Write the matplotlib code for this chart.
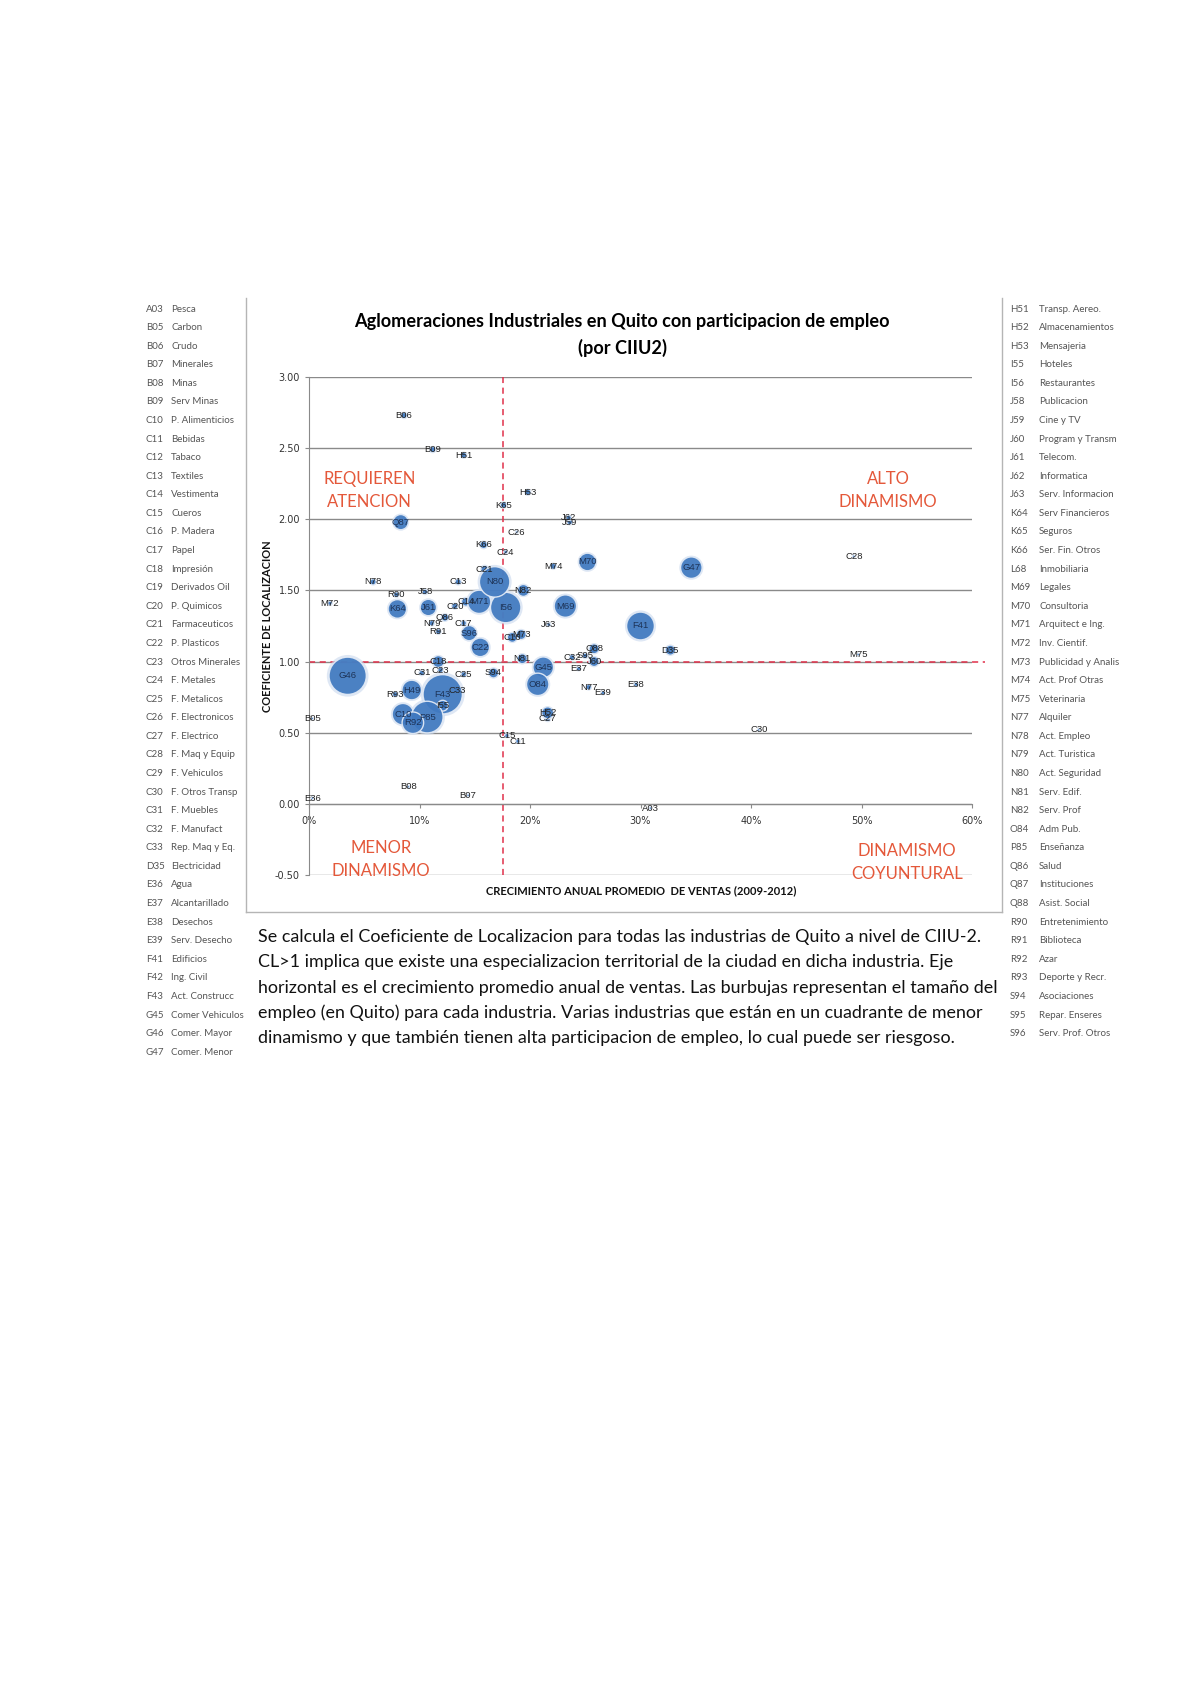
import matplotlib
matplotlib.use("Agg")
import matplotlib.pyplot as plt
from matplotlib.ticker import FuncFormatter, MultipleLocator
from matplotlib.lines import Line2D

W, H = 1195, 1691

# datos del grafico (crecimiento en %, coeficiente de localizacion, empleo relativo)
codigos = ["A03", "B05", "B06", "B07", "B08", "B09", "C10", "C11", "C13", "C14",
           "C15", "C16", "C17", "C18", "C20", "C21", "C22", "C23", "C24", "C25",
           "C26", "C27", "C28", "C30", "C31", "C32", "C33", "D35", "E36", "E37",
           "E38", "E39", "F41", "F43", "G45", "G46", "G47", "H49", "H51", "H52",
           "H53", "I55", "I56", "J58", "J59", "J60", "J61", "J62", "J63", "K64",
           "K65", "K66", "M69", "M70", "M71", "M72", "M73", "M74", "M75", "N77",
           "N78", "N79", "N80", "N81", "N82", "O84", "P85", "Q86", "Q87", "Q88",
           "R90", "R91", "R92", "R93", "S94", "S95", "S96"]
crecimiento = [30.9, 0.3, 8.6, 14.4, 9.0, 11.2, 8.5, 18.9, 13.5, 14.2,
               17.9, 18.4, 14.0, 11.7, 13.2, 15.9, 15.5, 11.9, 17.8, 14.0,
               18.8, 21.6, 49.3, 40.7, 10.2, 23.8, 13.4, 32.7, 0.3, 24.4,
               29.6, 26.6, 30.0, 12.1, 21.2, 3.5, 34.6, 9.3, 14.0, 21.6,
               19.8, 12.1, 17.8, 10.5, 23.6, 25.8, 10.8, 23.5, 21.7, 8.0,
               17.6, 15.8, 23.2, 25.2, 15.4, 1.9, 19.2, 22.1, 49.7, 25.3,
               5.8, 11.1, 16.8, 19.3, 19.4, 20.7, 10.7, 12.3, 8.3, 25.8,
               7.9, 11.7, 9.4, 7.8, 16.7, 25.0, 14.5]
coef_loc = [-0.03, 0.60, 2.73, 0.06, 0.12, 2.49, 0.63, 0.44, 1.56, 1.42,
            0.48, 1.17, 1.27, 1.00, 1.39, 1.65, 1.10, 0.94, 1.77, 0.91,
            1.91, 0.60, 1.74, 0.52, 0.92, 1.03, 0.80, 1.08, 0.04, 0.95,
            0.84, 0.78, 1.25, 0.77, 0.96, 0.90, 1.66, 0.80, 2.45, 0.64,
            2.19, 0.69, 1.38, 1.49, 1.98, 1.00, 1.38, 2.01, 1.26, 1.37,
            2.10, 1.82, 1.39, 1.70, 1.42, 1.41, 1.19, 1.67, 1.05, 0.82,
            1.56, 1.27, 1.56, 1.02, 1.50, 0.84, 0.61, 1.31, 1.98, 1.09,
            1.47, 1.21, 0.57, 0.77, 0.92, 1.04, 1.20]
empleo = [0.2, 0.2, 1.0, 0.2, 0.2, 1.0, 12, 0.5, 1.0, 2.0,
          0.5, 2.6, 0.8, 3.7, 1.0, 1.5, 9, 0.8, 0.4, 0.8,
          0.2, 1.0, 0.2, 0.2, 0.8, 0.8, 0.8, 2.6, 0.2, 0.5,
          0.5, 0.4, 20, 40, 11, 36, 12, 10, 1.0, 3.7,
          1.0, 3.0, 24, 0.8, 0.8, 2.6, 7, 0.8, 0.4, 9,
          1.0, 1.5, 13, 8, 14, 0.5, 2.6, 1.0, 0.2, 0.8,
          1.0, 0.8, 24, 2.6, 3.7, 13, 26, 1.5, 6, 2.6,
          0.8, 0.8, 12, 0.8, 2.6, 0.8, 6]

umbral_x = 17.6
umbral_y = 1.0

leyenda_izq = [("A03", "Pesca"), ("B05", "Carbon"), ("B06", "Crudo"), ("B07", "Minerales"),
               ("B08", "Minas"), ("B09", "Serv Minas"), ("C10", "P. Alimenticios"),
               ("C11", "Bebidas"), ("C12", "Tabaco"), ("C13", "Textiles"),
               ("C14", "Vestimenta"), ("C15", "Cueros"), ("C16", "P. Madera"),
               ("C17", "Papel"), ("C18", "Impresión"), ("C19", "Derivados Oil"),
               ("C20", "P. Quimicos"), ("C21", "Farmaceuticos"), ("C22", "P. Plasticos"),
               ("C23", "Otros Minerales"), ("C24", "F. Metales"), ("C25", "F. Metalicos"),
               ("C26", "F. Electronicos"), ("C27", "F. Electrico"), ("C28", "F. Maq y Equip"),
               ("C29", "F. Vehiculos"), ("C30", "F. Otros Transp"), ("C31", "F. Muebles"),
               ("C32", "F. Manufact"), ("C33", "Rep. Maq y Eq."), ("D35", "Electricidad"),
               ("E36", "Agua"), ("E37", "Alcantarillado"), ("E38", "Desechos"),
               ("E39", "Serv. Desecho"), ("F41", "Edificios"), ("F42", "Ing. Civil"),
               ("F43", "Act. Construcc"), ("G45", "Comer Vehiculos"), ("G46", "Comer. Mayor"),
               ("G47", "Comer. Menor")]
leyenda_der = [("H51", "Transp. Aereo."), ("H52", "Almacenamientos"), ("H53", "Mensajeria"),
               ("I55", "Hoteles"), ("I56", "Restaurantes"), ("J58", "Publicacion"),
               ("J59", "Cine y TV"), ("J60", "Program y Transm"), ("J61", "Telecom."),
               ("J62", "Informatica"), ("J63", "Serv. Informacion"), ("K64", "Serv Financieros"),
               ("K65", "Seguros"), ("K66", "Ser. Fin. Otros"), ("L68", "Inmobiliaria"),
               ("M69", "Legales"), ("M70", "Consultoria"), ("M71", "Arquitect e Ing."),
               ("M72", "Inv. Cientif."), ("M73", "Publicidad y Analis"), ("M74", "Act. Prof Otras"),
               ("M75", "Veterinaria"), ("N77", "Alquiler"), ("N78", "Act. Empleo"),
               ("N79", "Act. Turistica"), ("N80", "Act. Seguridad"), ("N81", "Serv. Edif."),
               ("N82", "Serv. Prof"), ("O84", "Adm Pub."), ("P85", "Enseñanza"),
               ("Q86", "Salud"), ("Q87", "Instituciones"), ("Q88", "Asist. Social"),
               ("R90", "Entretenimiento"), ("R91", "Biblioteca"), ("R92", "Azar"),
               ("R93", "Deporte y Recr."), ("S94", "Asociaciones"), ("S95", "Repar. Enseres"),
               ("S96", "Serv. Prof. Otros")]

texto_pie = [
    "Se calcula el Coeficiente de Localizacion para todas las industrias de Quito a nivel de CIIU-2.",
    "CL>1 implica que existe una especializacion territorial de la ciudad en dicha industria. Eje",
    "horizontal es el crecimiento promedio anual de ventas. Las burbujas representan el tamaño del",
    "empleo (en Quito) para cada industria. Varias industrias que están en un cuadrante de menor",
    "dinamismo y que también tienen alta participacion de empleo, lo cual puede ser riesgoso.",
]


def fx(px):
    return px / W


def fy(py):
    return 1 - py / H


fig = plt.figure(figsize=(W / 100, H / 100), dpi=100)
fig.patch.set_facecolor("white")

ax_w = fx(972) - fx(309)
ax = fig.add_axes([fx(309), fy(875), ax_w, fy(377) - fy(875)])
ax.set_xlim(0, 60)
ax.set_ylim(-0.5, 3.0)
ax.yaxis.set_major_locator(MultipleLocator(0.5))
ax.xaxis.set_major_locator(MultipleLocator(10))
ax.yaxis.set_major_formatter(FuncFormatter(lambda v, p: f"{v:.2f}"))
ax.xaxis.set_major_formatter(FuncFormatter(lambda v, p: f"{v:.0f}%"))
ax.grid(axis="y", color="#8a8a8a", linewidth=1.0)
ax.set_axisbelow(True)
for s in ["top", "right"]:
    ax.spines[s].set_visible(False)
ax.spines["bottom"].set_position(("data", 0))
ax.spines["bottom"].set_color("#8a8a8a")
ax.spines["left"].set_color("#8a8a8a")
ax.tick_params(axis="both", labelsize=7, colors="#8a8a8a", labelcolor="#333333", length=3)
ax.tick_params(axis="x", pad=6)
for t in ax.get_xticklabels() + ax.get_yticklabels():
    t.set_family("Liberation Sans Narrow")

# lineas de umbral
ax.axvline(umbral_x, color="#e0304a", linestyle=(0, (4, 3)), linewidth=1.1, zorder=1)
ax.add_line(Line2D([0, 61.2], [umbral_y, umbral_y], color="#e0304a",
                   linestyle=(0, (4, 3)), linewidth=1.1, zorder=1, clip_on=False))

# burbujas (halo claro + burbuja azul)
tam = [e * 20 for e in empleo]
ax.scatter(crecimiento, coef_loc, s=[t * 1.25 for t in tam], c="#c9d8ee",
           edgecolors="none", alpha=0.6, zorder=2)
ax.scatter(crecimiento, coef_loc, s=tam, c="#4079c0", edgecolors="#e3ebf6",
           linewidths=1.0, alpha=0.93, zorder=3)
for cod, xv, yv, e in zip(codigos, crecimiento, coef_loc, empleo):
    col = "#1d3357" if e >= 4 else "#222222"
    ax.text(xv, yv, cod, ha="center", va="center", fontsize=6.8, color=col,
            family="Liberation Sans", zorder=4)

# cuadrantes
naranja = "#e4583a"
kw = dict(ha="center", va="center", fontsize=12, color=naranja, family="Lato",
          linespacing=1.55)
ax.text(5.5, 2.20, "REQUIEREN\nATENCION", **kw)
ax.text(52.4, 2.20, "ALTO\nDINAMISMO", **kw)
ax.text(6.5, -0.39, "MENOR\nDINAMISMO", **kw)
ax.text(54.1, -0.41, "DINAMISMO\nCOYUNTURAL", **kw)

ax.set_ylabel("COEFICIENTE DE LOCALIZACION", fontsize=8, fontweight="bold",
              family="Lato", color="#111111")
ax.yaxis.set_label_coords((fx(273) - fx(309)) / ax_w, 0.5)
fig.text(fx(641), fy(891), "CRECIMIENTO ANUAL PROMEDIO  DE VENTAS (2009-2012)",
         ha="center", va="center", fontsize=8, fontweight="bold", family="Lato",
         color="#111111")

# titulo
fig.text(fx(622), fy(322), "Aglomeraciones Industriales en Quito con participacion de empleo",
         ha="center", va="center", fontsize=13.1, fontweight="bold", family="Lato")
fig.text(fx(622), fy(348), "(por CIIU2)", ha="center", va="center", fontsize=13.1,
         fontweight="bold", family="Lato")

# marco del grafico
marco = "#b5b5b5"
fig.add_artist(Line2D([fx(246), fx(246)], [fy(298), fy(912)], color=marco, lw=1))
fig.add_artist(Line2D([fx(246), fx(1002)], [fy(912), fy(912)], color=marco, lw=1))
fig.add_artist(Line2D([fx(1002), fx(1002)], [fy(298), fy(912)], color=marco, lw=1))

# leyendas laterales
paso = 18.58
for i, (c, n) in enumerate(leyenda_izq):
    y = fy(309 + i * paso)
    fig.text(fx(146), y, c, fontsize=7, color="#555555", va="center", family="Lato")
    fig.text(fx(171), y, n, fontsize=7, color="#555555", va="center", family="Lato")
for i, (c, n) in enumerate(leyenda_der):
    y = fy(309 + i * paso)
    fig.text(fx(1010), y, c, fontsize=7, color="#555555", va="center", family="Lato")
    fig.text(fx(1039), y, n, fontsize=7, color="#555555", va="center", family="Lato")

# texto al pie
for i, linea in enumerate(texto_pie):
    fig.text(fx(258), fy(937 + i * 25.3), linea, fontsize=12.85, va="center",
             family="Lato", color="#111111")

fig.savefig("out.png", dpi=100, facecolor="white")
